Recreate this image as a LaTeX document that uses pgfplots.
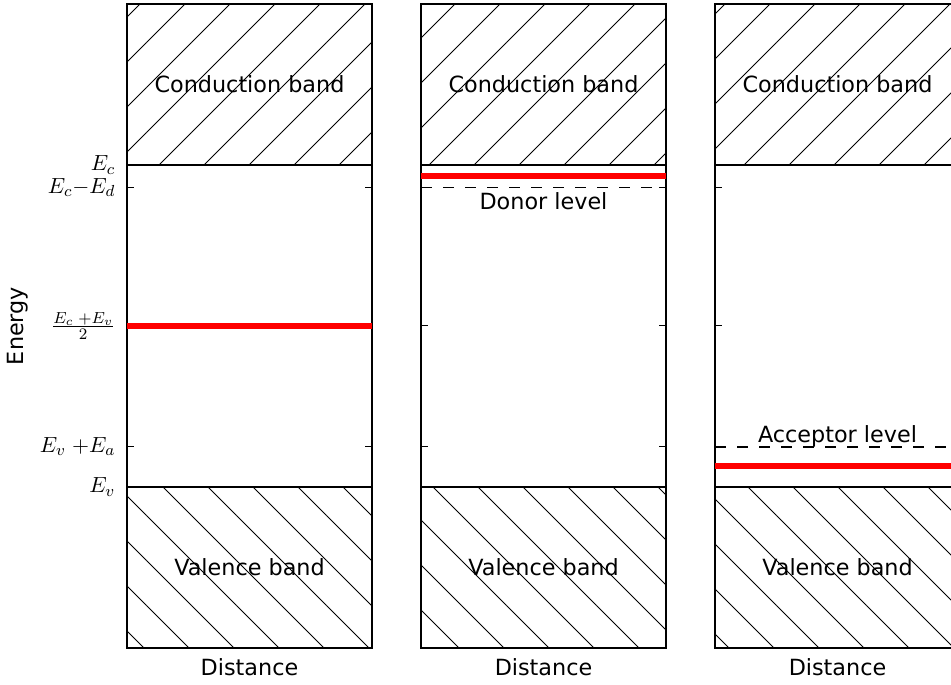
\documentclass[border=0pt]{standalone}
\usepackage{fontspec}
\setmainfont{DejaVu Sans}
\usepackage{pgfplots}
\pgfplotsset{compat=1.18}
\usetikzlibrary{patterns.meta}
\pgfplotsset{
  band/.style={
    scale only axis, width=122.5pt, height=322pt,
    xmin=0, xmax=1, ymin=-0.5, ymax=1.5,
    xtick=\empty, ytick={0,0.125,0.5,0.93,1}, yticklabels={},
    major tick length=3.5pt, tick align=inside, ytick pos=both,
    tick style={black, line width=0.5pt},
    axis line style={line width=0.9pt},
    xlabel={Distance},
    xlabel style={at={(axis description cs:0.5,-0.0295)}, anchor=center},
    font=\fontsize{11.15}{13}\selectfont,
    anchor=south west,
  },
  cband/.style={draw=none, pattern={Lines[angle=45, distance=15.91pt, line width=0.45pt]}, pattern color=black},
  vband/.style={draw=none, pattern={Lines[angle=-45, distance=15.91pt, line width=0.45pt]}, pattern color=black},
  edge/.style={black, line width=0.9pt},
  fermi/.style={red, line width=2.8pt},
  level/.style={black, line width=0.9pt, dash pattern=on 5.5pt off 5.5pt},
}
\begin{document}
\begin{tikzpicture}
\path[use as bounding box, clip] (-63.5pt,-18pt) rectangle (412pt,324pt);
% Panel 1: intrinsic
\begin{axis}[band, at={(0pt,0pt)},
  yticklabels={$E_v$, $E_v\;{+}E_a$, $\frac{E_c\;{+}E_v}{2}$, $E_c{-}E_d$, $E_c$},
  yticklabel style={xshift=-2.3pt},
  ylabel={Energy},
  ylabel style={at={(axis description cs:-0.445,0.5)}, anchor=center}]
\addplot[cband] coordinates {(0,1) (1,1) (1,1.5) (0,1.5)} -- cycle;
\addplot[vband] coordinates {(0,-0.5) (1,-0.5) (1,0) (0,0)} -- cycle;
\addplot[edge] coordinates {(0,1) (1,1)};
\addplot[edge] coordinates {(0,0) (1,0)};
\addplot[fermi] coordinates {(0,0.5) (1,0.5)};
\node at (axis cs:0.5,1.25) {Conduction band};
\node at (axis cs:0.5,-0.25) {Valence band};
\end{axis}
% Panel 2: n-type
\begin{axis}[band, at={(147pt,0pt)}]
\addplot[cband] coordinates {(0,1) (1,1) (1,1.5) (0,1.5)} -- cycle;
\addplot[vband] coordinates {(0,-0.5) (1,-0.5) (1,0) (0,0)} -- cycle;
\addplot[edge] coordinates {(0,1) (1,1)};
\addplot[edge] coordinates {(0,0) (1,0)};
\addplot[level] coordinates {(0,0.93) (1,0.93)};
\addplot[fermi] coordinates {(0,0.965) (1,0.965)};
\node at (axis cs:0.5,1.25) {Conduction band};
\node at (axis cs:0.5,-0.25) {Valence band};
\node at (axis cs:0.5,0.888) {Donor level};
\end{axis}
% Panel 3: p-type
\begin{axis}[band, at={(294pt,0pt)}]
\addplot[cband] coordinates {(0,1) (1,1) (1,1.5) (0,1.5)} -- cycle;
\addplot[vband] coordinates {(0,-0.5) (1,-0.5) (1,0) (0,0)} -- cycle;
\addplot[edge] coordinates {(0,1) (1,1)};
\addplot[edge] coordinates {(0,0) (1,0)};
\addplot[level] coordinates {(0,0.125) (1,0.125)};
\addplot[fermi] coordinates {(0,0.065) (1,0.065)};
\node at (axis cs:0.5,1.25) {Conduction band};
\node at (axis cs:0.5,-0.25) {Valence band};
\node at (axis cs:0.5,0.158) {Acceptor level};
\end{axis}
\end{tikzpicture}
\end{document}
